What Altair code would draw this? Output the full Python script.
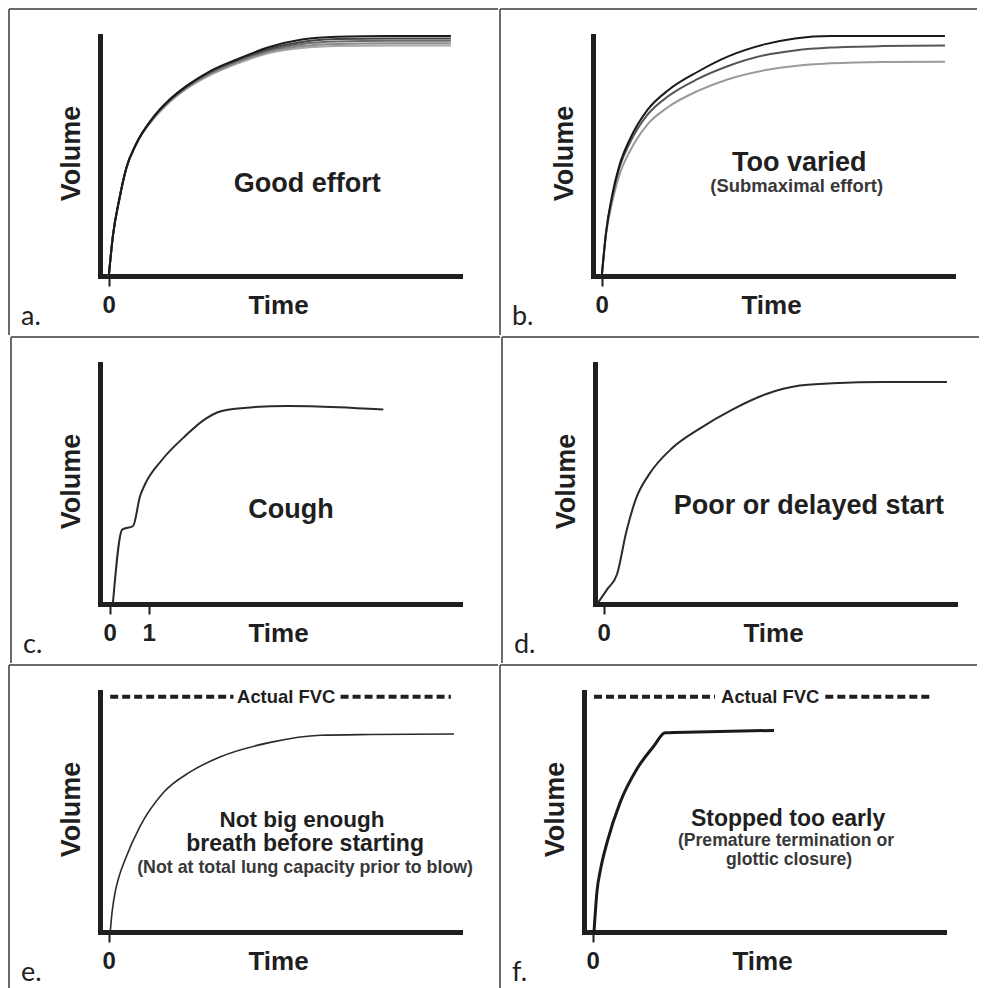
import altair as alt
import pandas as pd

INK = "#1f1f1f"
SUB = "#383838"
BORDER = "#6b6b6b"
FONT = "Liberation Sans, Arial, sans-serif"
LETTER_FONT = "Lato"

# ---------------- data ----------------
# a. Good effort: five nearly identical manoeuvres
A_X = [0, 0.12, 0.3, 0.5, 0.78, 1.26, 1.7, 2.2, 2.9, 3.6, 4.6, 5.5, 6.5, 8.0, 9.74]
A_Y1 = [0, 0.17, 0.32, 0.45, 0.55, 0.66, 0.73, 0.79, 0.855, 0.90, 0.955, 0.985, 0.997, 1.0, 1.0]
A_Y2 = [0, 0.17, 0.32, 0.45, 0.55, 0.66, 0.73, 0.79, 0.852, 0.897, 0.948, 0.975, 0.987, 0.99, 0.99]
A_Y3 = [0, 0.17, 0.32, 0.45, 0.55, 0.657, 0.727, 0.786, 0.848, 0.892, 0.942, 0.967, 0.977, 0.98, 0.98]
A_Y4 = [0, 0.17, 0.32, 0.45, 0.55, 0.655, 0.724, 0.782, 0.843, 0.887, 0.936, 0.958, 0.967, 0.97, 0.97]
A_Y5 = [0, 0.17, 0.32, 0.45, 0.55, 0.652, 0.72, 0.778, 0.838, 0.882, 0.93, 0.95, 0.958, 0.96, 0.96]

# b. Too varied
B_X = [0, 0.12, 0.3, 0.5, 0.8, 1.29, 1.9, 2.72, 3.6, 4.63, 5.5, 6.52, 8.0, 9.77]
B_Y1 = [0, 0.18, 0.34, 0.46, 0.57, 0.69, 0.775, 0.85, 0.915, 0.965, 0.99, 1.0, 1.0, 1.0]
B_Y2 = [0, 0.18, 0.33, 0.45, 0.555, 0.67, 0.75, 0.82, 0.875, 0.92, 0.94, 0.952, 0.958, 0.96]
B_Y3 = [0, 0.17, 0.31, 0.42, 0.52, 0.63, 0.705, 0.77, 0.82, 0.857, 0.875, 0.886, 0.892, 0.893]

# c. Cough
C_X = [0.08, 0.32, 0.6, 0.78, 0.91, 1.34, 1.94, 2.45, 2.79, 3.3, 4.58, 5.87, 7.03]
C_Y = [0, 0.31, 0.325, 0.45, 0.50, 0.60, 0.70, 0.77, 0.80, 0.815, 0.825, 0.82, 0.81]

# d. Poor or delayed start
D_X = [-0.19, 0.1, 0.38, 0.64, 0.92, 1.29, 1.95, 2.72, 3.66, 4.63, 5.58, 6.52, 8.0, 9.77]
D_Y = [0, 0.062, 0.125, 0.30, 0.44, 0.54, 0.65, 0.73, 0.81, 0.875, 0.91, 0.92, 0.925, 0.925]

# e. Not big enough breath
E_X = [0.04, 0.1, 0.18, 0.3, 0.46, 0.89, 1.55, 2.32, 3.18, 4.6, 6.03, 7.46, 9.83]
E_Y = [0, 0.09, 0.165, 0.235, 0.30, 0.44, 0.58, 0.667, 0.73, 0.79, 0.82, 0.823, 0.825]

# f. Stopped too early
F_X = [0.035, 0.12, 0.22, 0.41, 0.78, 1.26, 1.74, 2.06, 2.97, 5.16]
F_Y = [0, 0.17, 0.26, 0.375, 0.54, 0.68, 0.775, 0.83, 0.833, 0.84]

# "Actual FVC" dashed reference (segments left/right of the label)
FVC_Y = 0.98
FVC_E = [(0.04, 3.55), (6.6, 9.74)]
FVC_F = [(0.035, 3.48), (6.62, 9.66)]

TEXT_A = [("Good effort", 5.65, 0.385, 27, INK)]
TEXT_B = [("Too varied", 5.62, 0.47, 27, INK),
          ("(Submaximal effort)", 5.55, 0.375, 18.4, SUB)]
TEXT_C = [("Cough", 4.66, 0.39, 27, INK)]
TEXT_D = [("Poor or delayed start", 5.84, 0.41, 27, INK)]
TEXT_E = [("Actual FVC", 5.05, FVC_Y, 18.4, INK),
          ("Not big enough", 5.5, 0.466, 22.5, INK),
          ("breath before starting", 5.59, 0.367, 23, INK),
          ("(Not at total lung capacity prior to blow)", 5.59, 0.265, 17.8, SUB)]
TEXT_F = [("Actual FVC", 5.05, FVC_Y, 18.4, INK),
          ("Stopped too early", 5.56, 0.472, 23, INK),
          ("(Premature termination or", 5.5, 0.379, 17.6, SUB),
          ("glottic closure)", 5.59, 0.302, 17.6, SUB)]

PW, PH = 360, 240


def xaxis(vals):
    return alt.Axis(values=vals, format="d", title="Time", grid=False,
                    domainWidth=5, domainColor=INK, domainCap="square",
                    ticks=True, tickSize=10, tickWidth=2, tickColor=INK,
                    labelFont=FONT, labelFontWeight="bold", labelFontSize=24,
                    labelColor=INK, labelBaseline="alphabetic", labelPadding=26,
                    labelFlush=False, labelOverlap=False,
                    titleFont=FONT, titleFontWeight="bold", titleFontSize=26,
                    titleColor=INK, titleX=178, titleY=37,
                    titleBaseline="alphabetic", titleAlign="center")


YAXIS = alt.Axis(labels=False, ticks=False, grid=False, domainWidth=5,
                 domainColor=INK, domainCap="square", title="Volume",
                 titleFont=FONT, titleFontWeight="bold", titleFontSize=27,
                 titleColor=INK, titleAngle=270, titleX=-29, titleY=117,
                 titleBaseline="middle", titleAlign="center")


def make_panel(curves, xdom, xticks, texts, letter, ox, cw, ch, dashes=None):
    X = alt.X("x:Q", scale=alt.Scale(domain=xdom, nice=False, zero=False), axis=xaxis(xticks))
    Y = alt.Y("y:Q", scale=alt.Scale(domain=[0, 1], nice=False, zero=False), axis=YAXIS)
    one = pd.DataFrame({"k": [0]})
    layers = []
    # cell frame (top + left separators)
    layers.append(alt.Chart(one).mark_rule(color=BORDER, strokeWidth=2).encode(
        x=alt.value(-ox), x2=alt.value(cw - ox), y=alt.value(-27)))
    layers.append(alt.Chart(one).mark_rule(color=BORDER, strokeWidth=2).encode(
        x=alt.value(-ox), y=alt.value(-27), y2=alt.value(ch - 27)))
    for xs, ys, color, w in curves:
        df = pd.DataFrame({"x": xs, "y": ys})
        layers.append(alt.Chart(df).mark_line(color=color, strokeWidth=w,
                                              interpolate="monotone", clip=False)
                      .encode(x=X, y=Y))
    if dashes:
        df = pd.DataFrame({"x": [s[0] for s in dashes], "x2": [s[1] for s in dashes],
                           "y": [FVC_Y] * len(dashes)})
        layers.append(alt.Chart(df).mark_rule(color=INK, strokeWidth=4, strokeDash=[8, 4])
                      .encode(x=X, x2="x2:Q", y=Y))
    tdf = pd.DataFrame(texts, columns=["t", "x", "y", "s", "c"])
    layers.append(alt.Chart(tdf).mark_text(font=FONT, fontWeight="bold", align="center",
                                           baseline="middle")
                  .encode(x=X, y=Y, text="t:N",
                          size=alt.Size("s:Q", scale=None),
                          color=alt.Color("c:N", scale=None)))
    layers.append(alt.Chart(one).mark_text(font=LETTER_FONT, fontSize=27, align="left",
                                           baseline="alphabetic", color=INK, text=letter)
                  .encode(x=alt.value(12 - ox), y=alt.value(289)))
    return alt.layer(*layers).properties(width=PW, height=PH)


LW, RW = 489, 477
RH = 326

pa = make_panel([(A_X, A_Y5, "#a8a8a8", 2), (A_X, A_Y4, "#8a8a8a", 2), (A_X, A_Y3, "#6a6a6a", 2),
                 (A_X, A_Y2, "#444444", 2), (A_X, A_Y1, "#1a1a1a", 2)],
                [-0.25, 10], [0], TEXT_A, "a.", 91, LW, RH)
pb = make_panel([(B_X, B_Y3, "#9a9a9a", 2), (B_X, B_Y2, "#555555", 2), (B_X, B_Y1, "#1a1a1a", 2)],
                [-0.25, 10], [0], TEXT_B, "b.", 93, RW, RH)
pc = make_panel([(C_X, C_Y, "#2a2a2a", 2)], [-0.25, 9], [0, 1], TEXT_C, "c.", 89, LW, RH)
pd_ = make_panel([(D_X, D_Y, "#2a2a2a", 2)], [-0.25, 10], [0], TEXT_D, "d.", 93, RW, RH)
pe = make_panel([(E_X, E_Y, "#2a2a2a", 1.6)], [-0.25, 10], [0], TEXT_E, "e.", 91, LW, RH,
                dashes=FVC_E)
pf = make_panel([(F_X, F_Y, "#1a1a1a", 3)], [-0.25, 10], [0], TEXT_F, "f.", 84, RW, RH,
                dashes=FVC_F)

chart = alt.vconcat(
    alt.hconcat(pa, pb, spacing=0),
    alt.hconcat(pc, pd_, spacing=0),
    alt.hconcat(pe, pf, spacing=0),
    spacing=0,
).properties(padding=0, background="white").configure_view(stroke=None)

chart.save("out.html", embed_options={"renderer": "svg", "actions": False})
